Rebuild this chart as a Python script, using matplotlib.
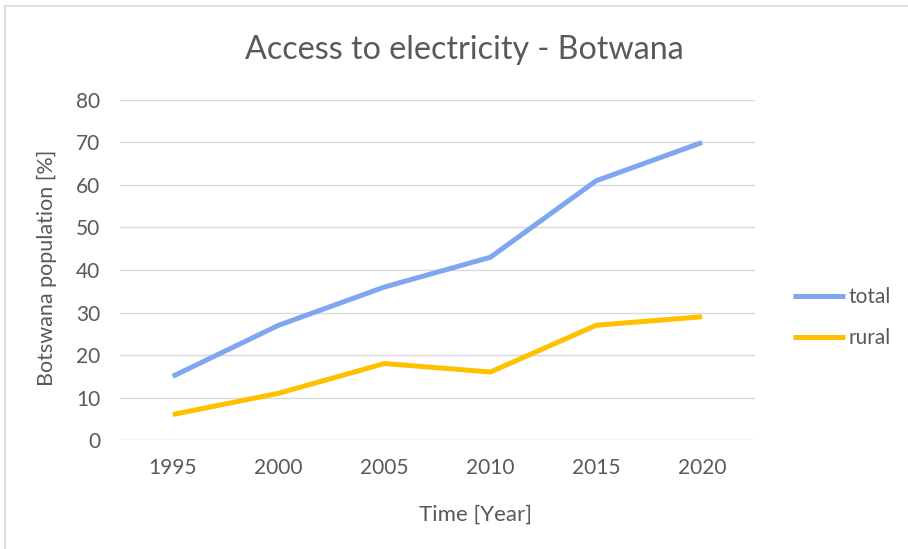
import matplotlib.pyplot as plt
from matplotlib.patches import Rectangle

years = ['1995', '2000', '2005', '2010', '2015', '2020']
total = [15, 27, 36, 43, 61, 70]
rural = [6, 11, 18, 16, 27, 29]

plt.rcParams['font.family'] = ['Lato', 'DejaVu Sans']
txt = '#595959'

fig = plt.figure(figsize=(9.08, 5.49), dpi=100)
ax = fig.add_axes([0.132, 0.1985, 0.6995, 0.6194])

x = range(len(years))
ax.plot(x, total, color='#7FA7EF', lw=3.6, solid_capstyle='butt', label='total')
ax.plot(x, rural, color='#FFC000', lw=3.6, solid_capstyle='butt', label='rural')

ax.set_xlim(-0.5, 5.5)
ax.set_ylim(0, 80)
ax.set_yticks(range(0, 81, 10))
ax.set_xticks(list(x))
ax.set_xticklabels(years)
ax.grid(axis='y', color='#D9D9D9', lw=1)
ax.set_axisbelow(True)
for s in ax.spines.values():
    s.set_visible(False)
ax.tick_params(length=0, labelsize=15, colors=txt, pad=13)
ax.tick_params(axis='y', pad=14)

fig.text(0.511, 0.909, 'Access to electricity - Botwana', fontsize=23.2, color=txt,
         ha='center', va='center')
fig.text(0.524, 0.062, 'Time [Year]', fontsize=16, color=txt, ha='center', va='center')
fig.text(0.052, 0.512, 'Botswana population [%]', fontsize=15.5, color=txt,
         ha='center', va='center', rotation=90)

ax.legend(loc='center left', bbox_to_anchor=(1.03, 0.36), frameon=False,
          fontsize=15, labelcolor=txt, handlelength=2.5, handletextpad=0.15,
          labelspacing=1.0)

# light chart border
fig.add_artist(Rectangle((0.006, -0.01), 1.1, 0.999, transform=fig.transFigure,
                         fill=False, ec='#D9D9D9', lw=1.2))

fig.savefig('out.png', dpi=100)
